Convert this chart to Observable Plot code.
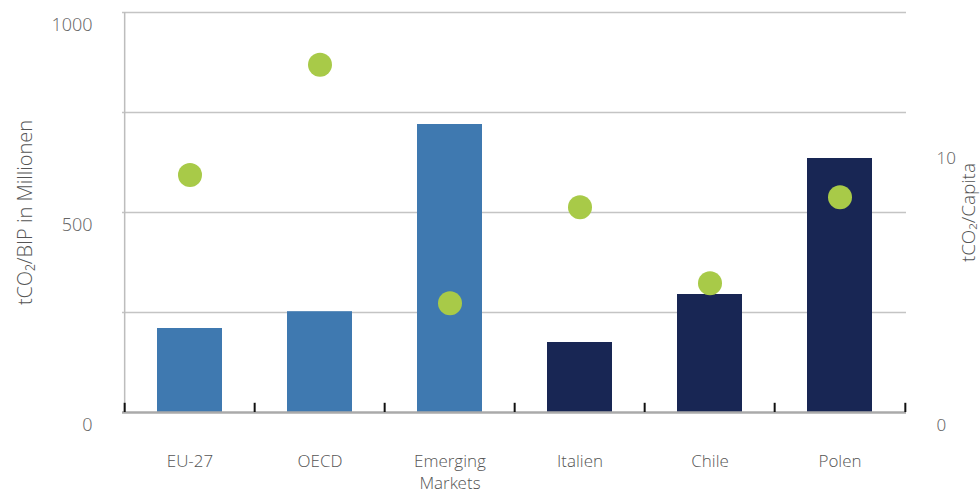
<!DOCTYPE html>
<html>
<head>
<meta charset="utf-8">
<script src="https://cdn.jsdelivr.net/npm/d3@7"></script>
<script src="https://cdn.jsdelivr.net/npm/@observablehq/plot@0.6"></script>
<style>
  html, body { margin: 0; padding: 0; background: #fff; }
  #chart { width: 980px; height: 494px; }
</style>
</head>
<body>
<div id="chart"></div>
<script>
const categories = ["EU-27", "OECD", "Emerging Markets", "Italien", "Chile", "Polen"];
const groups = ["Region", "Region", "Region", "Land", "Land", "Land"];
const bipValues = [210, 252, 720, 175, 295, 635];          // tCO2/BIP in Millionen (left axis)
const capitaValues = [8.91, 13.04, 4.10, 7.70, 4.85, 8.07]; // tCO2/Capita (right axis)
const leftTicks = [0, 500, 1000];
const rightTicks = [0, 10];
const leftTitle = "tCO₂/BIP in Millionen";
const rightTitle = "tCO₂/Capita";

const leftMax = 1000;
const rightMax = 15;
const k = leftMax / rightMax;

const data = categories.map((c, i) => ({
  category: c, group: groups[i], bip: bipValues[i], capita: capitaValues[i]
}));

const W = 980, H = 494, mL = 122, mR = 74, mT = 12, mB = 82;
const step = (W - mL - mR) / categories.length;

const chart = Plot.plot({
  width: W,
  height: H,
  marginLeft: mL,
  marginRight: mR,
  marginTop: mT,
  marginBottom: mB,
  style: { fontFamily: "'Open Sans Light', 'Open Sans', 'Noto Sans', sans-serif", fontSize: "17px", fontWeight: 300, color: "#666", background: "#fff" },
  x: { domain: categories, paddingInner: 0.5, paddingOuter: 0.25 },
  y: { domain: [0, leftMax] },
  color: { domain: ["Region", "Land"], range: ["#3f79b0", "#182654"] },
  marks: [
    Plot.gridY([250, 500, 750, 1000], { stroke: "#c4c4c4", strokeOpacity: 1, strokeWidth: 1.5 }),
    Plot.ruleX([categories[0]], { dx: -step / 2, y1: 0, y2: leftMax, stroke: "#bdbdbd", strokeWidth: 1.5 }),
    Plot.barY(data, { x: "category", y: "bip", fill: "group" }),
    Plot.ruleY([0], { stroke: "#aaaaaa", strokeWidth: 2.5 }),
    Plot.ruleX(categories, { dx: -step / 2, y1: 0, y2: 23, stroke: "#111", strokeWidth: 2 }),
    Plot.ruleX([categories[categories.length - 1]], { dx: step / 2, y1: 0, y2: 23, stroke: "#111", strokeWidth: 2 }),
    Plot.dot(data, { x: "category", y: d => d.capita * k, r: 12, fill: "#a8ca48", stroke: "none" }),
    Plot.axisY(leftTicks, { anchor: "left", tickSize: 0, tickPadding: 30, dy: 13, label: null, tickFormat: d => String(d), fill: "#666", fontSize: 18 }),
    Plot.axisY(rightTicks.map(t => t * k), { anchor: "right", tickSize: 0, tickPadding: 30, dy: 13, label: null, tickFormat: d => String(Math.round(d / k)), fill: "#666", fontSize: 17 }),
    Plot.axisX({ tickSize: 0, tickPadding: 39, label: null, fill: "#555", fontSize: 17, lineHeight: 1.3, tickFormat: d => d.replace(" ", "\n") }),
    Plot.text([leftTitle], { frameAnchor: "left", textAnchor: "middle", rotate: -90, dx: -97, fontSize: 20, fill: "#555" }),
    Plot.text([rightTitle], { frameAnchor: "right", textAnchor: "middle", rotate: -90, dx: 62, fontSize: 19, fill: "#555" })
  ]
});

document.getElementById("chart").appendChild(chart);
</script>
</body>
</html>
